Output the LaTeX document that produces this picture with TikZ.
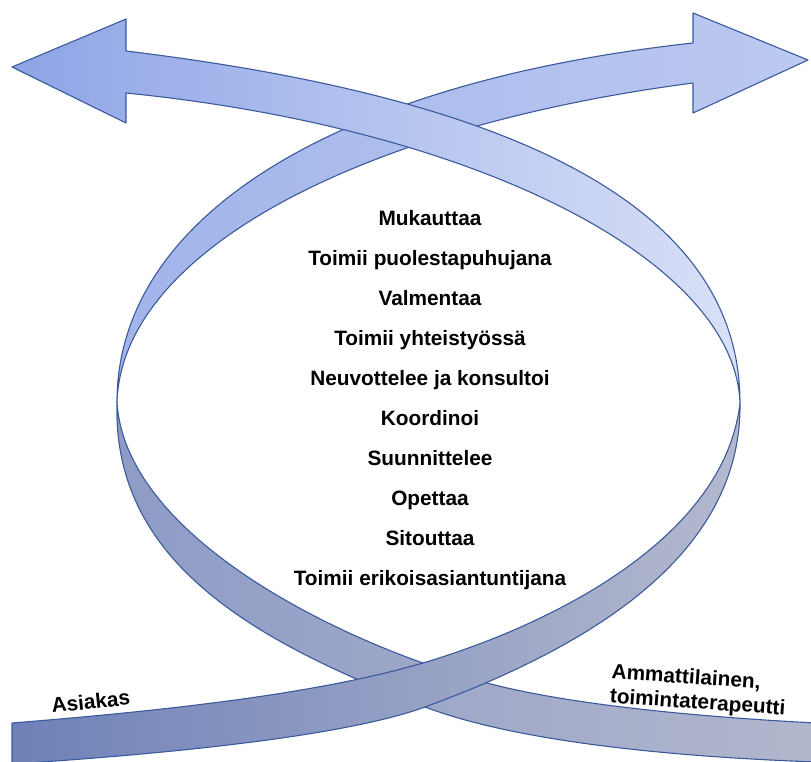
\documentclass[tikz,border=0pt]{standalone}
\usepackage{fontspec}
\setmainfont{Liberation Sans}
\usetikzlibrary{positioning}
\definecolor{reuna}{HTML}{3A5A9C}
\definecolor{asiakasylaV}{HTML}{8EA4E6}
\definecolor{asiakasylaO}{HTML}{D9E1F7}
\definecolor{asiakasalaV}{HTML}{6F81B8}
\definecolor{asiakasalaO}{HTML}{B4B9CD}
\definecolor{ammattiylaV}{HTML}{A2B4EA}
\definecolor{ammattiylaO}{HTML}{BCC9F1}
\definecolor{ammattialaV}{HTML}{8E9BC6}
\definecolor{ammattialaO}{HTML}{B2B7CC}

\begin{document}
\begin{tikzpicture}[x=0.5pt, y=-0.5pt, font=\fontsize{10.4}{12.2}\selectfont\bfseries,
    nauha/.style={draw=reuna, line width=0.55pt, line join=round},
    rooli/.style={anchor=base, inner sep=0pt}]
        \useasboundingbox (0,0) rectangle (811,762);
        % ammattilainen: oikealta alhaalta vasemman kierteen kautta oikealle ylos
        \path[nauha, left color=ammattialaV, right color=ammattialaO]
          (816,723) .. controls (700,717) and (570,705) .. (487,683)
          .. controls (350,647) and (125,540) .. (117,402)
          .. controls (112,560) and (250,640) .. (425,707)
          .. controls (520,743) and (680,757) .. (816,762) -- cycle;
        \path[nauha, left color=ammattiylaV, right color=ammattiylaO]
          (117,402) .. controls (117,215) and (338,82) .. (693,43)
          -- (693,13) -- (808,60) -- (693,113) -- (693,83)
          .. controls (363,126) and (122,250) .. (117,402) -- cycle;
        % asiakas: vasemmalta alhaalta oikean kierteen kautta vasemmalle ylos
        \path[nauha, left color=asiakasalaV, right color=asiakasalaO]
          (12,723) .. controls (200,708) and (330,690) .. (423,663)
          .. controls (560,622) and (725,535) .. (740,403)
          .. controls (742,560) and (580,650) .. (425,707)
          .. controls (340,738) and (150,755) .. (12,764) -- cycle;
        \path[nauha, left color=asiakasylaV, right color=asiakasylaO]
          (740,403) .. controls (740,203) and (506,97) .. (126,51)
          -- (126,19) -- (12,67) -- (126,123) -- (126,93)
          .. controls (476,128) and (735,260) .. (740,403) -- cycle;
        \foreach \rooli [count=\i] in {Mukauttaa, Toimii puolestapuhujana, Valmentaa, Toimii yhteistyössä,
                                       Neuvottelee ja konsultoi, Koordinoi, Suunnittelee, Opettaa, Sitouttaa,
                                       Toimii erikoisasiantuntijana}{
          \node[rooli] (rooli\i) at (430,{225+40.1*(\i-1)}) {\rooli};
        }
        \node[anchor=base west, inner sep=0pt, rotate=6] (asiakas) at (52,713) {Asiakas};
        \node[anchor=north west, inner sep=0pt, align=left, rotate=-4] (ammatti) at (612,663)
          {Ammattilainen,\\toimintaterapeutti};
      \end{tikzpicture}
\end{document}
